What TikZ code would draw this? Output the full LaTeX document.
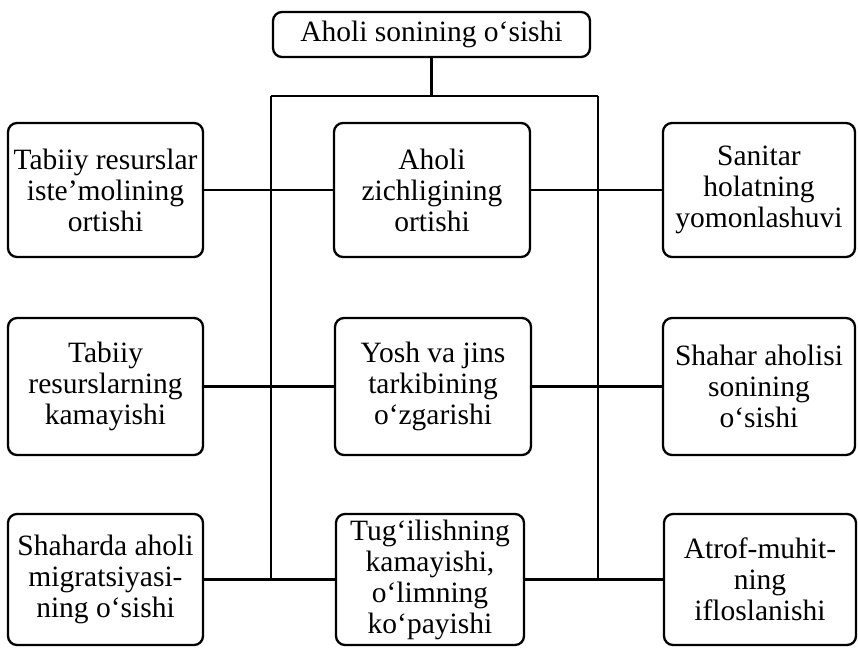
\documentclass[tikz,border=0pt]{standalone}
\usepackage{fontspec}
\setmainfont{Liberation Serif}
\begin{document}
\begin{tikzpicture}[x=1pt,y=-1pt,
  box/.style={draw, line width=2.3pt, rounded corners=9pt, align=center, inner sep=0pt,
    font=\fontsize{29.5}{31}\selectfont},
  ln/.style={line width=2.3pt}]
\useasboundingbox (0,0) rectangle (858,648);
\node[box, minimum width=317pt, minimum height=45pt] (top) at (431.5,34.5) {Aholi sonining o‘sishi};
% row 1
\node[box, minimum width=195pt, minimum height=134pt] (l1) at (105.5,190) {Tabiiy resurslar\\iste’molining\\ortishi};
\node[box, minimum width=196pt, minimum height=134pt] (m1) at (432,190) {Aholi\\zichligining\\ortishi};
\node[box, minimum width=192pt, minimum height=134pt] (r1) at (759,190) {Sanitar\\holatning\\yomonlashuvi};
% row 2
\node[box, minimum width=195pt, minimum height=137pt] (l2) at (105.5,386.5) {Tabiiy\\resurslarning\\kamayishi};
\node[box, minimum width=196pt, minimum height=137pt] (m2) at (433,386.5) {Yosh va jins\\tarkibining\\o‘zgarishi};
\node[box, minimum width=192pt, minimum height=137pt] (r2) at (759,386.5) {Shahar aholisi\\sonining\\o‘sishi};
% row 3
\node[box, minimum width=195pt, minimum height=131pt] (l3) at (105.5,579.5) {Shaharda aholi\\migratsiyasi-\\ning o‘sishi};
\node[box, minimum width=188pt, minimum height=131pt] (m3) at (430,579.5) {Tug‘ilishning\\kamayishi,\\o‘limning\\ko‘payishi};
\node[box, minimum width=192pt, minimum height=131pt] (r3) at (760,579.5) {Atrof-muhit-\\ning\\ifloslanishi};
% trunk
\coordinate (tl) at (271,96);
\coordinate (tr) at (598,96);
\coordinate (bl) at (271,579.5);
\coordinate (br) at (598,579.5);
\draw[ln] (top.south) -- (top.south |- tl);
\draw[ln] (tl) -- (tr);
\draw[ln] (tl) -- (bl);
\draw[ln] (tr) -- (br);
% row connectors
\draw[ln] (l1) -- (m1);
\draw[ln] (m1) -- (r1);
\draw[ln] (l2) -- (m2);
\draw[ln] (m2) -- (r2);
\draw[ln] (l3) -- (m3);
\draw[ln] (m3) -- (r3);
\end{tikzpicture}
\end{document}
